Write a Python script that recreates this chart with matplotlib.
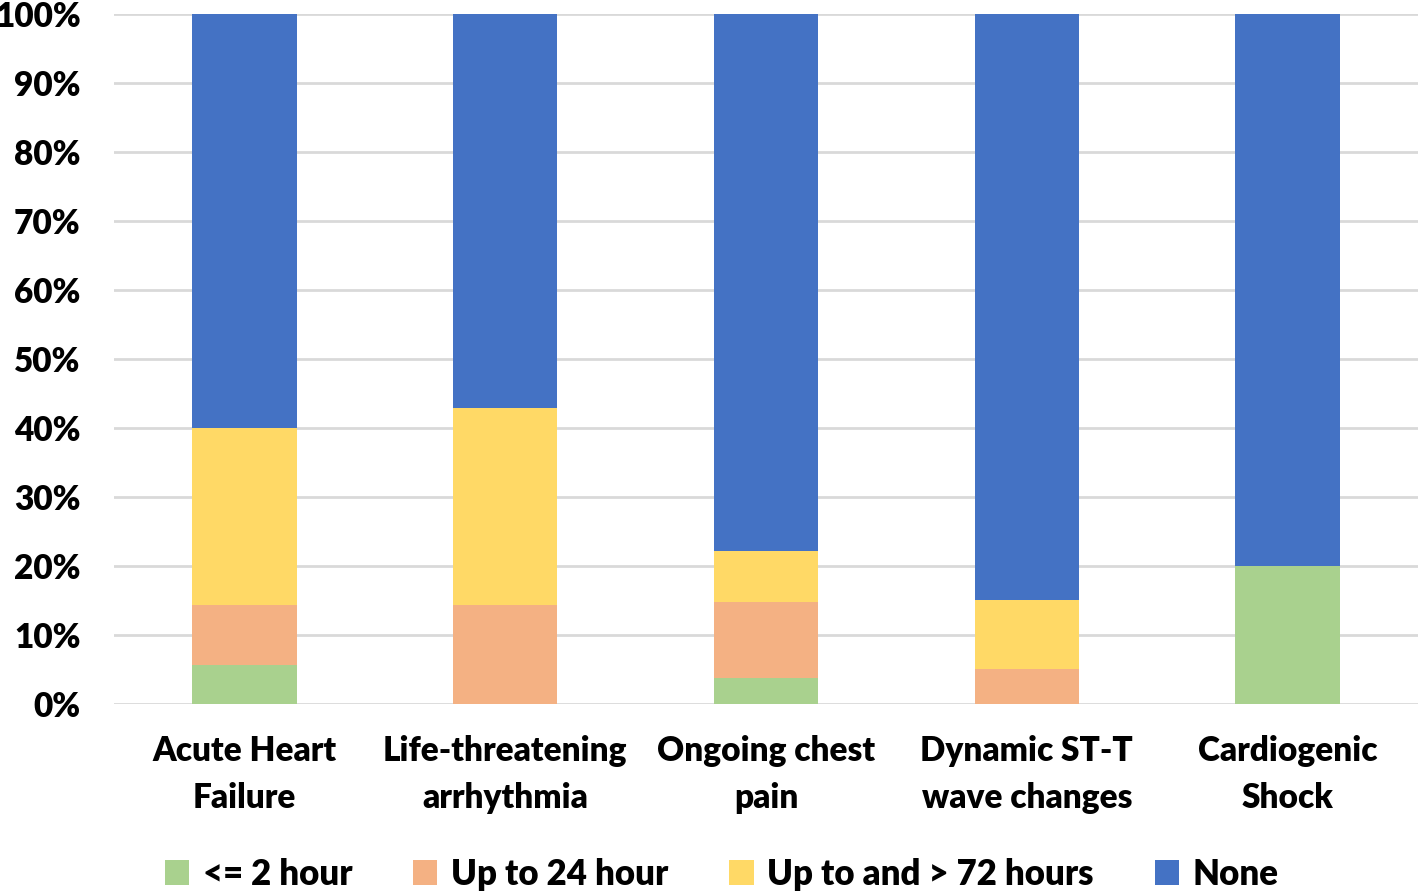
import numpy as np
import matplotlib.pyplot as plt

categories = ["Acute Heart\nFailure", "Life-threatening\narrhythmia", "Ongoing chest\npain",
              "Dynamic ST-T\nwave changes", "Cardiogenic\nShock"]
series_names = ["<= 2 hour", "Up to 24 hour", "Up to and > 72 hours", "None"]
le_2h = [5.7, 0.0, 3.7, 0.0, 20.0]
upto_24h = [8.6, 14.3, 11.1, 5.0, 0.0]
upto_72h = [25.7, 28.6, 7.4, 10.0, 0.0]
none = [60.0, 57.1, 77.8, 85.0, 80.0]
colors = ["#A9D18E", "#F4B183", "#FFD966", "#4472C4"]

plt.rcParams['font.family'] = ['Lato', 'DejaVu Sans']
plt.rcParams['font.weight'] = 'heavy'

fig = plt.figure(figsize=(14.18, 8.91), dpi=100)
ax = fig.add_axes([0.0804, 0.2099, 0.9196, 0.7744])

x = np.arange(len(categories))
bottom = np.zeros(len(categories))
for name, vals, c in zip(series_names, [le_2h, upto_24h, upto_72h, none], colors):
    vals = np.array(vals)
    ax.bar(x, vals, width=0.4, bottom=bottom, color=c, label=name, zorder=3)
    bottom += vals

ax.set_xlim(-0.5, 4.5)
ax.set_ylim(0, 100)
ax.set_yticks(np.arange(0, 101, 10))
ax.set_yticklabels([f"{v}%" for v in range(0, 101, 10)])
ax.set_xticks(x)
ax.set_xticklabels(categories, linespacing=1.6)
ax.tick_params(axis='both', length=0, labelsize=24)
ax.tick_params(axis='x', pad=22)
ax.tick_params(axis='y', pad=24)
ax.yaxis.grid(True, color="#d9d9d9", linewidth=2, zorder=0)
for s in ax.spines.values():
    s.set_visible(False)

fig.legend(loc='center', bbox_to_anchor=(0.509, 0.019), ncol=4, frameon=False,
           fontsize=25, handlelength=0.7, handleheight=0.7, handletextpad=0.4,
           columnspacing=1.75)

fig.savefig("out.png", dpi=100)
